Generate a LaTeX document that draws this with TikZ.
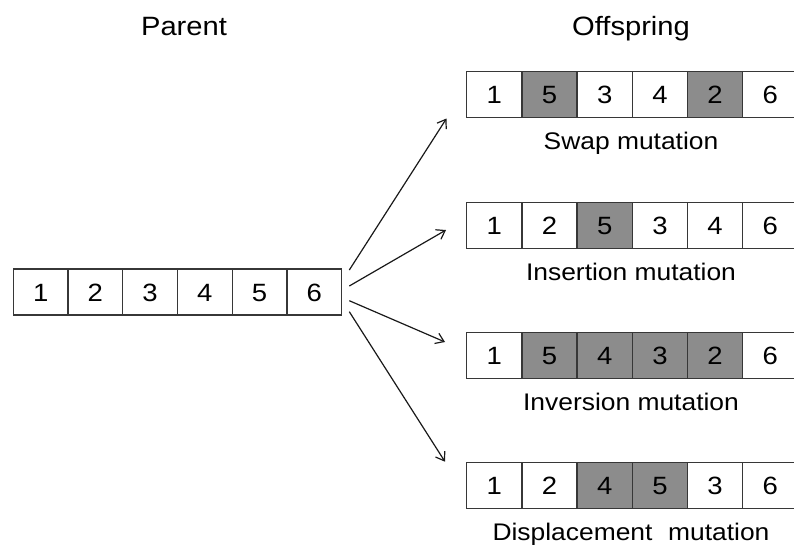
\documentclass[tikz,border=0pt]{standalone}
\usepackage{fontspec}
\setmainfont{Liberation Sans}[FakeStretch=1.1]
\usetikzlibrary{arrows.meta}
\definecolor{cellgray}{RGB}{140,140,140}
\definecolor{edge}{RGB}{55,55,55}
\begin{document}
\begin{tikzpicture}[x=1pt,y=-1pt,
  cell/.style={draw=edge,line width=1.4pt,minimum height=46pt,inner sep=0pt,
    text height=18pt,text depth=0pt,font=\fontsize{25}{29}\selectfont},
  pcell/.style={cell,minimum width=54.7pt},
  ocell/.style={cell,minimum width=55.2pt},
  hl/.style={fill=cellgray},
  lbl/.style={font=\fontsize{24}{28}\selectfont,inner sep=0pt,anchor=base},
  ttl/.style={font=\fontsize{26.5}{30}\selectfont,inner sep=0pt,anchor=base},
  arr/.style={line width=1.2pt,draw=black!90,-{Straight Barb[length=8pt,width=11pt,line width=1.2pt]}}]
\useasboundingbox (0,0) rectangle (794,551);
\clip (0,0) rectangle (794,551);
% titles
\node[ttl] (tp) at (184,36) {Parent};
\node[ttl] (to) at (631,36) {Offspring};
% parent
\foreach \v [count=\i] in {1,2,3,4,5,6}{
  \node[pcell] (p\i) at ({13.3+54.73*(\i-0.5)},292) {\v};
}
% offspring rows
\newcommand{\orow}[4]{%
  \foreach \v/\s [count=\i] in {#3}{
    \node[ocell,\s] (#1\i) at ({466.7+55.2*(\i-0.5)},#2) {\v};
  }
  \node[lbl] (#1l) at (631,#2+54.8) {#4};
}
\orow{a}{94.5}{1/,5/hl,3/,4/,2/hl,6/}{Swap mutation}
\orow{b}{225.5}{1/,2/,5/hl,3/,4/,6/}{Insertion mutation}
\orow{c}{355.5}{1/,5/hl,4/hl,3/hl,2/hl,6/}{Inversion mutation}
\orow{d}{485.5}{1/,2/,4/hl,5/hl,3/,6/}{Displacement\hspace{0.35em} mutation}
% arrows
\coordinate (s1) at (349.3,270);
\coordinate (s2) at (349.3,286);
\coordinate (s3) at (349.3,300.7);
\coordinate (s4) at (349.3,311.7);
\coordinate (t1) at (446.5,118.5);
\coordinate (t2) at (446,230);
\coordinate (t3) at (445,342);
\coordinate (t4) at (445,461.7);
\draw[arr] (s1) -- (t1);
\draw[arr] (s2) -- (t2);
\draw[arr] (s3) -- (t3);
\draw[arr] (s4) -- (t4);
\end{tikzpicture}
\end{document}
